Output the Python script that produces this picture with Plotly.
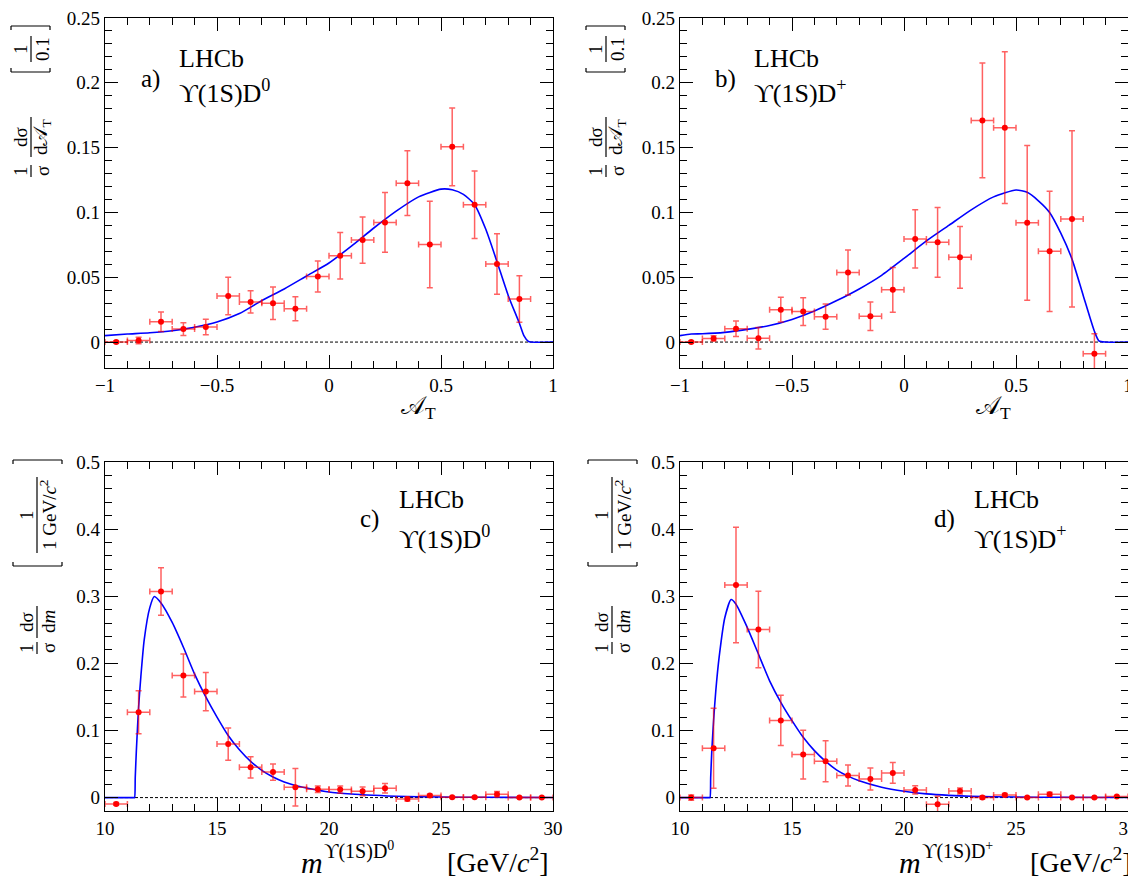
import plotly.graph_objects as go

W, H = 1136, 881
# the page body has an 8px margin, so the figure is drawn 8px in from the corner
OFF = 8
FW, FH = W, H - OFF
FONT = 'Liberation Serif, DejaVu Serif, serif'

# A_T bins (width 0.1)
AT_CENTERS = [-0.95, -0.85, -0.75, -0.65, -0.55, -0.45, -0.35, -0.25, -0.15, -0.05,
              0.05, 0.15, 0.25, 0.35, 0.45, 0.55, 0.65, 0.75, 0.85]
AT_HALF = 0.05

# panel a) Upsilon(1S)D0
A_Y = [0.0, 0.0013, 0.0157, 0.010, 0.0116, 0.0355, 0.031, 0.030, 0.0257, 0.0506,
       0.0666, 0.0787, 0.0923, 0.1226, 0.0753, 0.1506, 0.1059, 0.0602, 0.0332]
A_ERR = [0.001, 0.0025, 0.0075, 0.005, 0.006, 0.0145, 0.0085, 0.0125, 0.0093, 0.012,
         0.018, 0.0178, 0.023, 0.025, 0.0334, 0.030, 0.026, 0.0234, 0.018]
CURVE_A_X = [-1.0, -0.9, -0.8, -0.7, -0.6, -0.5, -0.4, -0.3, -0.2, -0.1, 0.0, 0.1, 0.2,
             0.3, 0.4, 0.5, 0.55, 0.6, 0.65, 0.7, 0.75, 0.8, 0.85, 0.87, 0.89, 0.9, 1.0]
CURVE_A_Y = [0.005, 0.0062, 0.0072, 0.0088, 0.0115, 0.0155, 0.022, 0.032, 0.041, 0.051,
             0.061, 0.074, 0.088, 0.101, 0.112, 0.118, 0.1175, 0.114, 0.106, 0.087,
             0.062, 0.036, 0.0145, 0.005, 0.0005, 0.0, 0.0]

# panel b) Upsilon(1S)D+
B_Y = [0.0, 0.0028, 0.0103, 0.003, 0.025, 0.0235, 0.0196, 0.0537, 0.0199, 0.0403,
       0.0796, 0.077, 0.0654, 0.171, 0.1654, 0.092, 0.070, 0.095, -0.009]
B_ERR = [0.001, 0.002, 0.006, 0.0083, 0.0096, 0.0107, 0.0097, 0.0173, 0.011, 0.0172,
         0.0225, 0.0269, 0.0238, 0.0442, 0.0585, 0.0597, 0.0464, 0.068, 0.0155]
CURVE_B_X = [-1.0, -0.95, -0.9, -0.8, -0.7, -0.6, -0.5, -0.4, -0.3, -0.2, -0.1, 0.0, 0.1,
             0.2, 0.3, 0.4, 0.5, 0.55, 0.6, 0.65, 0.7, 0.75, 0.8, 0.85, 0.87, 0.9, 1.0]
CURVE_B_Y = [0.005, 0.0062, 0.0064, 0.0075, 0.0098, 0.0128, 0.0175, 0.024, 0.032, 0.041,
             0.0515, 0.0645, 0.078, 0.090, 0.102, 0.112, 0.1173, 0.1155, 0.109, 0.100,
             0.084, 0.064, 0.036, 0.0083, 0.001, 0.0, 0.0]

# mass bins (width 1 GeV)
M_CENTERS = [10.5, 11.5, 12.5, 13.5, 14.5, 15.5, 16.5, 17.5, 18.5, 19.5,
             20.5, 21.5, 22.5, 23.5, 24.5, 25.5, 26.5, 27.5, 28.5, 29.5]
M_HALF = 0.5

# panel c) Upsilon(1S)D0
C_Y = [-0.0094, 0.127, 0.307, 0.182, 0.158, 0.0797, 0.045, 0.038, 0.0153, 0.0124,
       0.0119, 0.0094, 0.0139, -0.002, 0.003, 0.0005, 0.0005, 0.005, 0.0, 0.0]
C_ERR = [0.002, 0.032, 0.0355, 0.032, 0.0285, 0.024, 0.016, 0.012, 0.028, 0.005,
         0.0055, 0.0065, 0.007, 0.003, 0.002, 0.001, 0.001, 0.004, 0.001, 0.001]
CURVE_C_X = [10.0, 11.0, 11.28, 11.32, 11.35, 11.4, 11.5, 11.6, 11.75, 12.0, 12.2, 12.5,
             13.0, 13.5, 14.0, 14.5, 15.0, 15.5, 16.0, 16.5, 17.0, 17.5, 18.0, 18.5,
             19.0, 20.0, 21.0, 22.0, 23.0, 25.0, 27.0, 30.0]
CURVE_C_Y = [0.0, 0.0, 0.0, 0.0, 0.03, 0.07, 0.135, 0.18, 0.235, 0.283, 0.2995, 0.29,
             0.261, 0.224, 0.184, 0.150, 0.12, 0.0926, 0.0713, 0.054, 0.0406, 0.0307,
             0.0233, 0.018, 0.0144, 0.0084, 0.0054, 0.0035, 0.002, 0.0008, 0.0004, 0.0002]

# panel d) Upsilon(1S)D+
D_Y = [0.0, 0.0734, 0.3166, 0.2506, 0.115, 0.064, 0.054, 0.0328, 0.0278, 0.0367,
       0.0114, -0.0099, 0.0099, 0.0, 0.004, 0.0, 0.005, 0.0, 0.0, 0.0015]
D_ERR = [0.004, 0.0596, 0.086, 0.057, 0.0375, 0.0365, 0.0305, 0.0156, 0.0164, 0.0154,
         0.0062, 0.012, 0.0045, 0.002, 0.002, 0.001, 0.003, 0.001, 0.001, 0.001]
CURVE_D_X = [10.0, 11.0, 11.3, 11.34, 11.37, 11.42, 11.5, 11.6, 11.75, 12.0, 12.28, 12.5,
             13.0, 13.5, 14.0, 14.5, 15.0, 15.5, 16.0, 16.5, 17.0, 17.5, 18.0, 19.0,
             20.0, 21.0, 22.0, 23.0, 25.0, 27.0, 30.0]
CURVE_D_Y = [0.0, 0.0, 0.0, 0.0, 0.03, 0.07, 0.115, 0.16, 0.21, 0.268, 0.295, 0.288,
             0.2536, 0.214, 0.174, 0.142, 0.1146, 0.0898, 0.070, 0.054, 0.041, 0.032,
             0.025, 0.0154, 0.0094, 0.0055, 0.0033, 0.002, 0.0008, 0.0004, 0.0002]


def px(x):
    # page pixel -> paper fraction
    return (x - OFF) / FW


def py(y):
    return 1 - (y - OFF) / FH


fig = go.Figure()

panels = [
    # axis suffix, x centers, half width, y, err, curve x, curve y
    ('', AT_CENTERS, AT_HALF, A_Y, A_ERR, CURVE_A_X, CURVE_A_Y),
    ('2', AT_CENTERS, AT_HALF, B_Y, B_ERR, CURVE_B_X, CURVE_B_Y),
    ('3', M_CENTERS, M_HALF, C_Y, C_ERR, CURVE_C_X, CURVE_C_Y),
    ('4', M_CENTERS, M_HALF, D_Y, D_ERR, CURVE_D_X, CURVE_D_Y),
]

ERR_COLOR = 'rgba(255,0,0,0.62)'

for sfx, xc, hw, yv, ye, cx, cy in panels:
    fig.add_trace(go.Scatter(
        x=cx, y=cy, mode='lines', line=dict(color='blue', width=1.6, shape='spline', smoothing=0.6),
        xaxis='x' + sfx, yaxis='y' + sfx, hoverinfo='skip', showlegend=False))
    fig.add_trace(go.Scatter(
        x=xc, y=yv, mode='markers',
        marker=dict(color='red', size=6),
        error_y=dict(type='data', array=ye, color=ERR_COLOR, thickness=1.5, width=3),
        error_x=dict(type='constant', value=hw, color=ERR_COLOR, thickness=1.5, width=3),
        xaxis='x' + sfx, yaxis='y' + sfx, showlegend=False))

tickfont = dict(family=FONT, size=19, color='black')
common = dict(showline=True, linecolor='black', linewidth=1.3, mirror='allticks',
              ticks='inside', ticklen=13, tickwidth=1, tickcolor='black', automargin=False,
              showgrid=False, zeroline=False, tickfont=tickfont, ticklabeloverflow='allow')

LEFT = [px(105), px(553)]
RIGHT = [px(680), px(1128)]
TOP = [py(368), py(18)]
BOT = [py(811), py(462)]

layout_axes = {}
for sfx, dom_x, dom_y, xr, xd, xm, yr, yd, ym in [
    ('', LEFT, TOP, [-1, 1], 0.5, 0.1, [-0.02, 0.25], 0.05, 0.01),
    ('2', RIGHT, TOP, [-1, 1], 0.5, 0.1, [-0.02, 0.25], 0.05, 0.01),
    ('3', LEFT, BOT, [10, 30], 5, 1, [-0.02, 0.5], 0.1, 0.02),
    ('4', RIGHT, BOT, [10, 30], 5, 1, [-0.02, 0.5], 0.1, 0.02),
]:
    layout_axes['xaxis' + sfx] = dict(common, domain=dom_x, range=xr, dtick=xd, tick0=xr[0],
                                      anchor='y' + sfx,
                                      minor=dict(ticks='inside', ticklen=7, dtick=xm, tickcolor='black', showgrid=False))
    layout_axes['yaxis' + sfx] = dict(common, domain=dom_y, range=yr, dtick=yd, tick0=0,
                                      anchor='x' + sfx,
                                      minor=dict(ticks='inside', ticklen=7, dtick=ym, tickcolor='black', showgrid=False))

fig.update_layout(width=FW, height=FH, margin=dict(l=0, r=0, t=0, b=0, autoexpand=False),
                  paper_bgcolor='white', plot_bgcolor='white',
                  font=dict(family=FONT, color='black'), **layout_axes)

# dashed zero lines
for sfx, xr in [('', [-1, 1]), ('2', [-1, 1]), ('3', [10, 30]), ('4', [10, 30])]:
    fig.add_shape(type='line', xref='x' + sfx, yref='y' + sfx, x0=xr[0], x1=xr[1], y0=0, y1=0,
                  line=dict(color='black', width=1, dash='3px,2px'), layer='below')

ann = []


def text(x, y, s, size, xanchor='left', angle=0):
    ann.append(dict(x=px(x), y=py(y), xref='paper', yref='paper', text=s, showarrow=False,
                    xanchor=xanchor, yanchor='middle', textangle=angle, borderpad=0,
                    font=dict(family=FONT, size=size, color='black')))


def hline(x0, x1, y):
    fig.add_shape(type='line', xref='paper', yref='paper', x0=px(x0), x1=px(x1), y0=py(y), y1=py(y),
                  line=dict(color='black', width=1.2))


def vline(x, y0, y1):
    fig.add_shape(type='line', xref='paper', yref='paper', x0=px(x), x1=px(x), y0=py(y0), y1=py(y1),
                  line=dict(color='black', width=1.2))


def rot_frac(xc, yc, num, den, barlen, size, gap=11):
    # rotated fraction: numerator on the left, denominator on the right
    text(xc - gap, yc, num, size, 'center', -90)
    text(xc + gap, yc, den, size, 'center', -90)
    vline(xc, yc - barlen / 2, yc + barlen / 2)


def rot_bracket(x0, x1, ytop, ybot):
    hline(x0, x1, ytop)
    vline(x0, ytop, ytop + 4)
    vline(x1, ytop, ytop + 4)
    hline(x0, x1, ybot)
    vline(x0, ybot, ybot - 4)
    vline(x1, ybot, ybot - 4)


ATXT = '𝒜'
for dx, tag, dlab in [(0, 'a)', 'D<sup>0</sup>'), (575, 'b)', 'D<sup>+</sup>')]:
    # y-axis label
    rot_frac(31 + dx, 171, '1', 'σ', 12, 19)
    rot_frac(31 + dx, 137, 'dσ', 'd' + ATXT + '<sub>T</sub>', 40, 19)
    rot_frac(31 + dx, 49, '1', '0.1', 26, 19)
    rot_bracket(11 + dx, 50 + dx, 26, 72)
    # x-axis title
    text(418 + dx, 408, ATXT + '<sub>T</sub>', 25, 'center')
    # labels
    text(150 + dx, 79, tag, 25, 'center')
    text(178 + dx, 58, 'LHCb', 26)
    text(178 + dx, 91, 'ϒ(1S)' + dlab, 26)

for dx, mx, bx, tag, dlab in [(0, 300, 550, 'c)', 'D<sup>0</sup>'), (575, 898, 1133, 'd)', 'D<sup>+</sup>')]:
    rot_frac(37 + dx, 648, '1', 'σ', 12, 19)
    rot_frac(37 + dx, 622, 'dσ', 'd<i>m</i>', 32, 19)
    rot_frac(37 + dx, 515, '1', '1 GeV/<i>c</i><sup>2</sup>', 76, 19)
    rot_bracket(13 + dx, 62 + dx, 460, 566)
    # x-axis title pieces
    text(mx, 862, '<i>m</i>', 30)
    text(mx + 23, 850, 'ϒ(1S)' + dlab, 20)
    text(bx, 860, '[GeV/<i>c</i><sup>2</sup>]', 28, 'right')
    text(369 + dx, 519, tag, 25, 'center')
    text(398 + dx, 499, 'LHCb', 26)
    text(398 + dx, 537, 'ϒ(1S)' + dlab, 26)

fig.update_layout(annotations=ann)

fig.write_html('out.html')
